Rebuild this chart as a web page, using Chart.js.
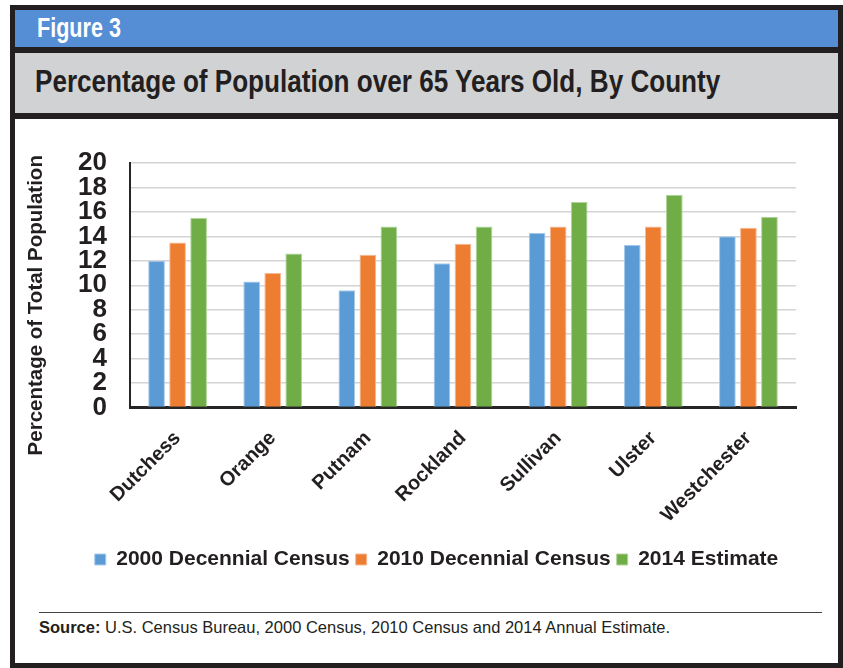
<!DOCTYPE html>
<html>
<head>
<meta charset="utf-8">
<script src="https://cdn.jsdelivr.net/npm/chart.js@4.4.1/dist/chart.umd.min.js"></script>
<style>
  html, body { margin: 0; padding: 0; background: #fff; }
  body { width: 843px; height: 668px; position: relative; overflow: hidden; }
  #frame {
    position: absolute; left: 10px; top: 5px; width: 833px; height: 663px;
    border: 5px solid #231f20; box-sizing: border-box; background: #fff;
  }
  .cond {
    font-family: "Liberation Sans", Arial, sans-serif; font-weight: bold;
    display: inline-block; white-space: nowrap; transform-origin: 0 50%;
  }
  #figBand {
    position: absolute; left: 0; top: 0; width: 100%; height: 37px; background: #558ed5;
  }
  #fig { position: absolute; left: 22px; top: 0; color: #fff; font-size: 28px; line-height: 35px; }
  .rule { position: absolute; left: 0; width: 100%; height: 6px; background: #231f20; }
  #headBand {
    position: absolute; left: 0; top: 43px; width: 100%; height: 60px; background: #d1d2d4;
  }
  #head { position: absolute; left: 20px; top: 0; color: #231f20; font-size: 31px; line-height: 58px; }
  #chartBox { position: absolute; left: 0; top: 109px; width: 823px; height: 461px; }
  #sep { position: absolute; left: 24px; top: 602px; width: 783px; border-top: 1.5px solid #444; }
  #source {
    position: absolute; left: 24px; top: 608px; font-family: "Liberation Sans", Arial, sans-serif;
    font-size: 16.5px; line-height: 18px; color: #231f20; white-space: nowrap;
  }
</style>
</head>
<body>
<div id="frame">
  <div id="figBand"><span id="fig" class="cond" data-w="84">Figure 3</span></div>
  <div class="rule" style="top:37px"></div>
  <div id="headBand"><span id="head" class="cond" data-w="685">Percentage of Population over 65 Years Old, By County</span></div>
  <div class="rule" style="top:103px"></div>
  <div id="chartBox"><canvas id="chart"></canvas></div>
  <div id="sep"></div>
  <div id="source"><b>Source:</b> U.S. Census Bureau, 2000 Census, 2010 Census and 2014 Annual Estimate.</div>
</div>
<script>
const counties = ['Dutchess', 'Orange', 'Putnam', 'Rockland', 'Sullivan', 'Ulster', 'Westchester'];
const census2000 = [12.0, 10.3, 9.6, 11.8, 14.3, 13.3, 14.0];
const census2010 = [13.5, 11.0, 12.5, 13.4, 14.8, 14.8, 14.7];
const estimate2014 = [15.5, 12.6, 14.8, 14.8, 16.8, 17.4, 15.6];
const yTicks = [0, 2, 4, 6, 8, 10, 12, 14, 16, 18, 20];

const ink = '#231f20';
const sans = "'Liberation Sans', Arial, sans-serif";

// no narrow font installed, so squeeze the header texts to the reference width
document.querySelectorAll('.cond').forEach(el => {
  el.style.transform = 'scaleX(' + (el.dataset.w / el.offsetWidth) + ')';
});

// y axis title drawn by hand so it can sit a little lower than the plot centre
const yTitle = {
  id: 'yTitle',
  afterDraw(chart) {
    const ctx = chart.ctx;
    const area = chart.chartArea;
    ctx.save();
    ctx.translate(21, (area.top + area.bottom) / 2 + 20);
    ctx.rotate(-Math.PI / 2);
    ctx.fillStyle = ink;
    ctx.font = 'bold 20.5px ' + sans;
    ctx.textAlign = 'center';
    ctx.textBaseline = 'middle';
    ctx.fillText('Percentage of Total Population', 0, 0);
    ctx.restore();
  }
};

const ctx = document.getElementById('chart').getContext('2d');

const bars = (label, data, color, edge) => ({
  label: label,
  data: data,
  backgroundColor: color,
  borderColor: edge,
  borderWidth: 1,
  categoryPercentage: 0.663,
  barPercentage: 0.795,
});

new Chart(ctx, {
  type: 'bar',
  data: {
    labels: counties,
    datasets: [
      bars('2000 Decennial Census', census2000, '#5b9bd5', '#a9c9ea'),
      bars('2010 Decennial Census', census2010, '#ed7d31', '#f6b994'),
      bars('2014 Estimate', estimate2014, '#70ad47', '#b0d49a'),
    ],
  },
  options: {
    responsive: true,
    maintainAspectRatio: false,
    animation: false,
    layout: { padding: { left: 20, right: 0, top: 44, bottom: 0 } },
    plugins: {
      legend: {
        position: 'bottom',
        labels: {
          color: ink,
          boxWidth: 11,
          boxHeight: 11,
          padding: 6,
          font: { family: sans, size: 21, weight: 'bold' },
        },
      },
      tooltip: { enabled: false },
    },
    scales: {
      x: {
        grid: { display: false, drawTicks: false },
        border: { color: '#262626', width: 3 },
        ticks: {
          color: ink,
          minRotation: 45,
          maxRotation: 45,
          autoSkip: false,
          padding: 19,
          font: { family: sans, size: 20, weight: 'bold' },
        },
        afterFit(scale) { scale.height = 135.5; },
      },
      y: {
        min: 0,
        max: 20,
        afterBuildTicks(scale) { scale.ticks = yTicks.map(v => ({ value: v })); },
        grid: { color: '#d4d4d4', lineWidth: 1.5, drawTicks: false },
        border: { color: '#262626', width: 2 },
        ticks: {
          color: ink,
          autoSkip: false,
          padding: 23,
          font: { family: sans, size: 26, weight: 'bold' },
        },
        afterFit(scale) { scale.width = 95; },
      },
      // empty right-hand axis, only there to leave the gap right of the plot
      gap: {
        position: 'right',
        grid: { display: false, drawTicks: false },
        border: { display: false },
        ticks: { display: false },
        afterFit(scale) { scale.width = 42; },
      },
    },
  },
  plugins: [yTitle],
});
</script>
</body>
</html>
